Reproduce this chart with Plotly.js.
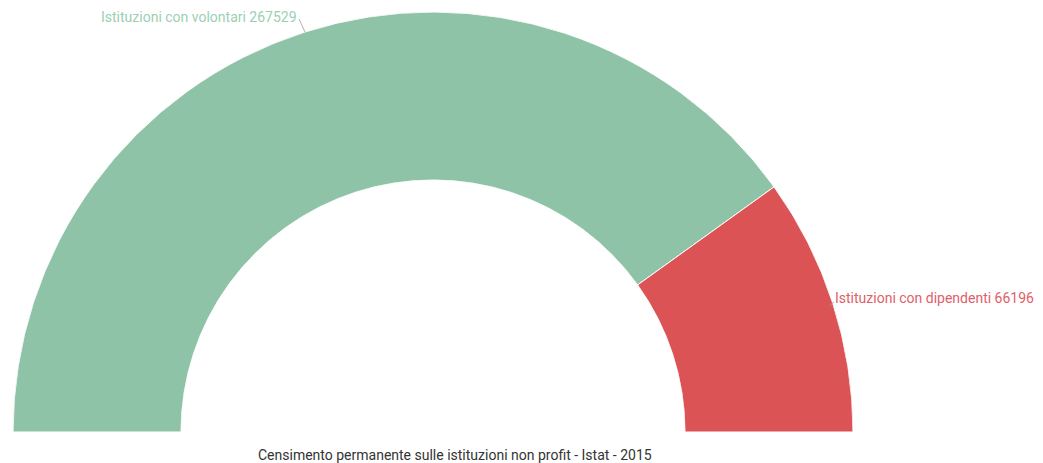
<!DOCTYPE html>
<html><head><meta charset="utf-8">
<script src="https://cdn.plot.ly/plotly-3.0.1.min.js"></script>
<style>html,body{margin:0;padding:0;background:#fff;}#chart{width:1043px;height:463px;}</style>
</head><body><div id="chart"></div>
<script>
const categories = ["Istituzioni con volontari", "Istituzioni con dipendenti"];
const values = [267529, 66196];
const colors = ["#8fc3a8", "#dc5355"];
const labelColors = ["#9ccfb3", "#e0606a"];
const chartTitle = "Censimento permanente sulle istituzioni non profit - Istat - 2015";

const W = 1043, H = 463;
const total = values.reduce((a, b) => a + b, 0);
// counter-clockwise from the right: last category starts at 0°
const thetas = [], widths = [];
let start = 0;
for (let i = values.length - 1; i >= 0; i--) {
  const span = values[i] / total * 180;
  thetas[i] = start + span / 2;
  widths[i] = span;
  start += span;
}

const trace = {
  type: 'barpolar',
  r: values.map(() => 1),
  theta: thetas,
  width: widths,
  marker: {color: colors, line: {color: '#ffffff', width: 1}},
  hoverinfo: 'skip',
  showlegend: false
};

const px = x => x / W, py = y => 1 - y / H;

const layout = {
  width: W, height: H,
  margin: {l: 0, r: 0, t: 0, b: 0},
  paper_bgcolor: '#ffffff',
  font: {family: 'Roboto, sans-serif'},
  polar: {
    domain: {x: [px(13), px(853)], y: [py(432), py(12)]},
    sector: [0, 180],
    hole: 0.6,
    bargap: 0,
    bgcolor: 'rgba(0,0,0,0)',
    radialaxis: {visible: false, range: [0, 1]},
    angularaxis: {visible: false, direction: 'counterclockwise', rotation: 0}
  },
  annotations: [
    {xref: 'paper', yref: 'paper', x: px(299), y: py(17), xanchor: 'right', yanchor: 'middle',
     text: categories[0] + ' ' + values[0], showarrow: false,
     font: {size: 14, color: labelColors[0]}},
    {xref: 'paper', yref: 'paper', x: px(833), y: py(298), xanchor: 'left', yanchor: 'middle',
     text: categories[1] + ' ' + values[1], showarrow: false,
     font: {size: 14, color: labelColors[1]}},
    {xref: 'paper', yref: 'paper', x: px(455), y: py(455), xanchor: 'center', yanchor: 'middle',
     text: chartTitle, showarrow: false,
     font: {size: 14, color: '#333333'}}
  ],
  shapes: [
    {type: 'line', xref: 'paper', yref: 'paper', x0: px(299), y0: py(19), x1: px(305), y1: py(32),
     line: {color: '#9a9a9a', width: 0.8}},
    {type: 'line', xref: 'paper', yref: 'paper', x0: px(834), y0: py(302), x1: px(829), y1: py(306),
     line: {color: '#9a9a9a', width: 0.8}}
  ]
};

Plotly.newPlot('chart', [trace], layout, {displayModeBar: false, staticPlot: true});
</script>
</body></html>
